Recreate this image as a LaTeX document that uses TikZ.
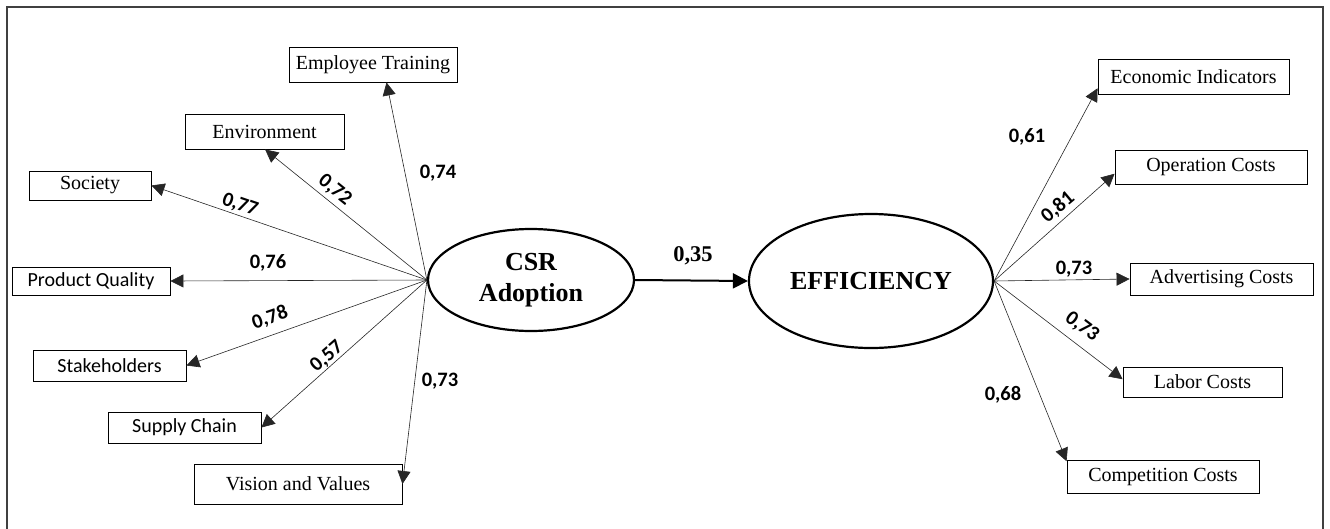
\documentclass[tikz,border=0pt]{standalone}
\usepackage{fontspec}
\setmainfont{Liberation Serif}
\newfontfamily\calibri{Carlito}
\usetikzlibrary{arrows.meta}
\usetikzlibrary{shapes.geometric}

\begin{document}
\begin{tikzpicture}
        [ x=1pt, y=-1pt
        , item/.style={draw, line width=0.9pt, inner sep=0pt, font=\fontsize{20}{24}\selectfont}
        , sansitem/.style={item, font=\calibri\fontsize{20}{24}\selectfont}
        , latent/.style={draw, ellipse, line width=2.2pt, inner sep=0pt, align=center, font=\bfseries\fontsize{26}{31}\selectfont}
        , load/.style={draw=black!85, line width=0.6pt, -{Triangle[length=13pt,width=13pt]}}
        , path/.style={line width=2pt, -{Triangle[length=15pt,width=15pt]}}
        , weight/.style={font=\calibri\bfseries\fontsize{20.5}{24}\selectfont}
        ]
        \useasboundingbox (0,0) rectangle (1330,528);
        \begin{scope}
            \clip (0,0) rectangle (1330,528);
            \draw[line width=1.2pt, black!75] (7,7) rectangle (1323,545);
        \end{scope}

        % latent variables
        \node[latent, minimum width=206, minimum height=102] (csr) at (531,280) {CSR\\Adoption};
        \node[latent, minimum width=244, minimum height=134] (eff) at (871,281) {EFFICIENCY};

        % CSR indicators
        \node[item, minimum width=168, minimum height=35] (emp) at (373,64.5) {Employee Training};
        \node[item, minimum width=159, minimum height=35] (env) at (264.5,131.5) {Environment};
        \node[item, minimum width=122, minimum height=29] (soc) at (90,185.5) {Society};
        \node[sansitem, minimum width=158, minimum height=28] (pq) at (91,281) {Product Quality};
        \node[sansitem, minimum width=153, minimum height=31] (sh) at (109.5,365.5) {Stakeholders};
        \node[sansitem, minimum width=153, minimum height=31] (sc) at (184.5,427.5) {Supply Chain};
        \node[item, minimum width=208, minimum height=40] (vis) at (298,484) {Vision and Values};

        % efficiency indicators
        \node[item, minimum width=191, minimum height=35] (eco) at (1193.5,76.5) {Economic Indicators};
        \node[item, minimum width=192, minimum height=34] (op) at (1211,167) {Operation Costs};
        \node[item, minimum width=183, minimum height=32] (adv) at (1221.5,279) {Advertising Costs};
        \node[item, minimum width=159, minimum height=30] (lab) at (1202.5,382) {Labor Costs};
        \node[item, minimum width=192, minimum height=33] (comp) at (1163,476.5) {Competition Costs};

        % loadings
        \foreach \t/\a in {emp/-53, env/-88, soc/east, pq/east, sh/east, sc/east, vis/east}
            \draw[load] (csr.west) -- (\t.\a);
        \foreach \t/\a in {eco/187, op/184, adv/west, lab/178, comp/171}
            \draw[load] (eff.east) -- (\t.\a);
        \draw[path] (csr.east) -- (eff.west);

        % weights
        \node[weight] (w-emp) at (438,173) {0,74};
        \node[weight, rotate=-39] (w-env) at (335,190) {0,72};
        \node[weight, rotate=-19] (w-soc) at (240,205) {0,77};
        \node[weight] (w-pq) at (268,263) {0,76};
        \node[weight, rotate=19] (w-sh) at (270,318) {0,78};
        \node[weight, rotate=41] (w-sc) at (327,357) {0,57};
        \node[weight] (w-vis) at (440,381) {0,73};
        \node[weight] (w-eco) at (1027,137) {0,61};
        \node[weight, rotate=40] (w-op) at (1058,207) {0,81};
        \node[weight] (w-adv) at (1074,269) {0,73};
        \node[weight, rotate=-37] (w-lab) at (1082,327) {0,73};
        \node[weight] (w-comp) at (1003,395) {0,68};
        \node[font=\bfseries\fontsize{22.5}{26}\selectfont] (w-path) at (693,256) {0,35};
\end{tikzpicture}
\end{document}
